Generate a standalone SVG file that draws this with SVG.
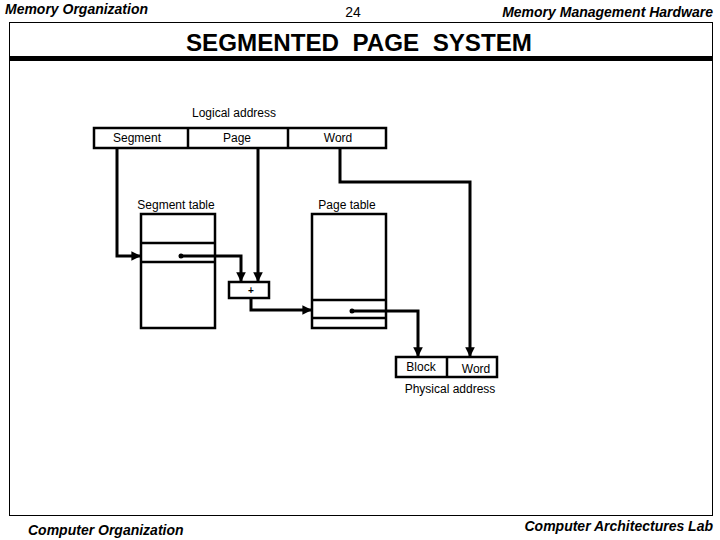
<svg xmlns="http://www.w3.org/2000/svg" width="720" height="540" viewBox="0 0 720 540">
<style>
.hdr{font-family:"Liberation Sans",Arial,sans-serif;font-size:14px;font-style:italic;font-weight:bold}
.t{font-family:"Liberation Sans",Arial,sans-serif;font-size:12px;fill:#000}
.box{fill:#fff;stroke:#000;stroke-width:2.5}
.ln{fill:none;stroke:#000;stroke-width:3}
</style>
<defs>
<marker id="ah" viewBox="0 0 10 10" refX="9" refY="5" markerWidth="3.2" markerHeight="3.2" orient="auto">
<path d="M0,0 L10,5 L0,10 z" fill="#000"/>
</marker>
</defs>
<rect width="720" height="540" fill="#fff"/>
<text class="hdr" x="5" y="14" textLength="143" lengthAdjust="spacingAndGlyphs">Memory Organization</text>
<text x="353" y="17" text-anchor="middle" style="font-family:'Liberation Sans',Arial,sans-serif;font-size:14px">24</text>
<text class="hdr" x="713" y="17" text-anchor="end">Memory Management Hardware</text>
<rect x="9.5" y="22.5" width="703" height="493" fill="none" stroke="#000" stroke-width="1"/>
<rect x="9" y="56" width="704" height="5" fill="#000"/>
<text x="186" y="51" xml:space="preserve" textLength="346" lengthAdjust="spacingAndGlyphs" style="font-family:'Liberation Sans',Arial,sans-serif;font-size:24px;font-weight:bold;white-space:pre">SEGMENTED  PAGE  SYSTEM</text>

<g id="logical">
<text class="t" x="234" y="117" text-anchor="middle">Logical address</text>
<rect class="box" x="94" y="128" width="292" height="20"/>
<line x1="188" y1="128" x2="188" y2="148" stroke="#000" stroke-width="2.5"/>
<line x1="288" y1="128" x2="288" y2="148" stroke="#000" stroke-width="2.5"/>
<text class="t" x="137" y="142" text-anchor="middle">Segment</text>
<text class="t" x="237" y="142" text-anchor="middle">Page</text>
<text class="t" x="338" y="142" text-anchor="middle">Word</text>
</g>

<g id="segtable">
<text class="t" x="176" y="209" text-anchor="middle">Segment table</text>
<rect class="box" x="141" y="214" width="74" height="114"/>
<line x1="141" y1="243" x2="215" y2="243" stroke="#000" stroke-width="2.5"/>
<line x1="141" y1="262" x2="215" y2="262" stroke="#000" stroke-width="2.5"/>
<circle cx="181" cy="256" r="2.5" fill="#000"/>
</g>

<g id="adder">
<rect class="box" x="229" y="282" width="40" height="16"/>
<text x="251" y="294" text-anchor="middle" style="font-family:'Liberation Sans',Arial,sans-serif;font-size:10px;font-weight:bold">+</text>
</g>

<g id="pagetable">
<text class="t" x="347" y="209" text-anchor="middle">Page table</text>
<rect class="box" x="312" y="214" width="74" height="114"/>
<line x1="312" y1="300" x2="386" y2="300" stroke="#000" stroke-width="2.5"/>
<line x1="312" y1="318" x2="386" y2="318" stroke="#000" stroke-width="2.5"/>
<circle cx="352" cy="311" r="2.5" fill="#000"/>
</g>

<g id="physical">
<rect class="box" x="396" y="357" width="101" height="20"/>
<line x1="447" y1="357" x2="447" y2="377" stroke="#000" stroke-width="2.5"/>
<text class="t" x="421" y="371" text-anchor="middle">Block</text>
<text class="t" x="476" y="373" text-anchor="middle">Word</text>
<text class="t" x="450" y="393" text-anchor="middle">Physical address</text>
</g>

<g id="connectors">
<polyline class="ln" points="117,148 117,256 140,256" marker-end="url(#ah)"/>
<polyline class="ln" points="181,256 241,256 241,281" marker-end="url(#ah)"/>
<polyline class="ln" points="258,148 258,281" marker-end="url(#ah)"/>
<polyline class="ln" points="251,298 251,310 311,310" marker-end="url(#ah)"/>
<polyline class="ln" points="352,311 418,311 418,356" marker-end="url(#ah)"/>
<polyline class="ln" points="340,148 340,182 470,182 470,356" marker-end="url(#ah)"/>
</g>

<text class="hdr" x="28" y="535">Computer Organization</text>
<text class="hdr" x="713" y="531" text-anchor="end">Computer Architectures Lab</text>
</svg>
